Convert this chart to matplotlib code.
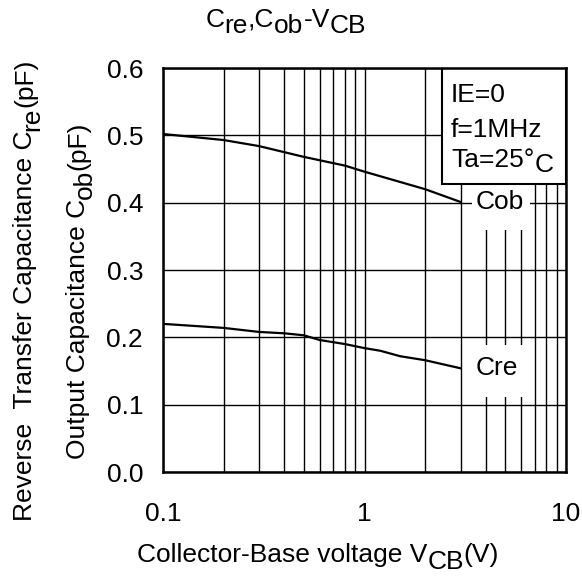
import matplotlib
matplotlib.use("Agg")
import matplotlib.pyplot as plt
from matplotlib.patches import Rectangle
from matplotlib.ticker import LogLocator, NullFormatter
from matplotlib.transforms import IdentityTransform

plt.rcParams['font.family'] = ['Liberation Sans', 'DejaVu Sans']

# Data
vcb_cob = [0.1, 0.2, 0.3, 0.5, 0.8, 1, 2, 3]
cob = [0.502, 0.493, 0.484, 0.468, 0.455, 0.446, 0.420, 0.401]
vcb_cre = [0.1, 0.2, 0.3, 0.4, 0.5, 0.6, 0.8, 1, 1.2, 1.5, 2, 3]
cre = [0.220, 0.214, 0.208, 0.206, 0.203, 0.196, 0.190, 0.184, 0.180, 0.172, 0.166, 0.154]
xticks = [0.1, 1, 10]
xticklabels = ["0.1", "1", "10"]
yticks = [0.0, 0.1, 0.2, 0.3, 0.4, 0.5, 0.6]
yticklabels = ["0.0", "0.1", "0.2", "0.3", "0.4", "0.5", "0.6"]

W, H = 582, 585
FS = 19
fig = plt.figure(figsize=(W/100, H/100), dpi=100)
ax = fig.add_axes([163/W, 1-472/H, (566-163)/W, (472-68)/H])

ax.set_xscale('log')
ax.set_xlim(0.1, 10)
ax.set_ylim(0, 0.6)
ax.set_xticks(xticks)
ax.set_xticklabels(xticklabels)
ax.xaxis.set_minor_locator(LogLocator(base=10, subs=range(2, 10)))
ax.xaxis.set_minor_formatter(NullFormatter())
ax.set_yticks(yticks)
ax.set_yticklabels(yticklabels)
ax.tick_params(which='both', length=0, labelsize=FS, colors='black')
ax.tick_params(axis='x', pad=21.5)
ax.tick_params(axis='y', pad=14.4)
ax.set_axisbelow(True)
ax.grid(True, which='both', color='black', linewidth=1.0)
for s in ax.spines.values():
    s.set_linewidth(1.8)
    s.set_zorder(5)

ax.plot(vcb_cob, cob, color='black', linewidth=1.6, zorder=3)
ax.plot(vcb_cre, cre, color='black', linewidth=1.6, zorder=3)

# white label boxes
ax.add_patch(Rectangle((3.41, 0.359), 6.63-3.41, 0.428-0.359, facecolor='white', edgecolor='none', zorder=2))
ax.add_patch(Rectangle((3.41, 0.111), 6.63-3.41, 0.189-0.111, facecolor='white', edgecolor='none', zorder=2))
ax.text(4.70, 0.401, "Cob", fontsize=FS, ha='center', va='center', zorder=4)
ax.text(4.55, 0.154, "Cre", fontsize=FS, ha='center', va='center', zorder=4)

# condition box
ax.add_patch(Rectangle((0.692, 0.713), 0.308, 0.287, transform=ax.transAxes,
                       facecolor='white', edgecolor='black', linewidth=1.5, zorder=4))

renderer = fig.canvas.get_renderer()


def rich(parts, pos, baseline, rot=0, align='center', shift=7, zorder=6):
    """parts: list of (text, lowered). pos: center/left coordinate along text
    direction (reference px from left/top); baseline: px (x for rotated, y from top)."""
    widths = []
    for s, _ in parts:
        t = fig.text(0, 0, s, fontsize=FS, transform=IdentityTransform())
        widths.append(t.get_window_extent(renderer).width)
        t.remove()
    total = sum(widths)
    cum = 0.0
    for (s, low), w in zip(parts, widths):
        if rot == 0:
            start = pos - total/2 if align == 'center' else pos
            x = start + cum
            y = (H - baseline) - (shift if low else 0)
        else:
            start = (H - pos) - total/2
            y = start + cum
            x = baseline + (shift if low else 0)
        fig.text(x, y, s, fontsize=FS, transform=IdentityTransform(), rotation=rot,
                 rotation_mode='anchor', ha='left', va='baseline', zorder=zorder)
        cum += w


rich([("C", False), ("re", True), (",C", False), ("ob", True), ("-V", False), ("CB", True)],
     286, 27, shift=6)
rich([("Collector-Base voltage V", False), ("CB", True), ("(V)", False)], 318, 562, shift=7)
rich([("Reverse  Transfer Capacitance C", False), ("re", True), ("(pF)", False)],
     290, 32, rot=90, shift=7)
rich([("Output Capacitance C", False), ("ob", True), ("(pF)", False)],
     290, 85, rot=90, shift=7)

rich([("IE=0", False)], 451, 102, align='left')
rich([("f=1MHz", False)], 451, 137, align='left')
rich([("Ta=25°", False), ("C", True)], 451, 167, align='left', shift=5)

fig.savefig("out.png", dpi=100)
